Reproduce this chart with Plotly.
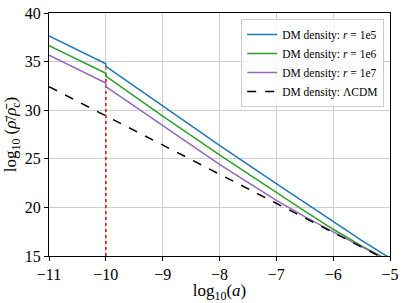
import plotly.graph_objects as go

# log10(a) sample positions and log10(rho/rho_c) values
x_r1e5 = [-11, -10, -10, -9, -8, -7, -6, -5.5, -5]
y_r1e5 = [37.63, 34.78, 34.5, 30.4, 26.38, 22.45, 18.52, 16.6, 14.78]

x_r1e6 = [-11, -10, -10, -9, -8, -7, -6.5, -6, -5.5, -5]
y_r1e6 = [36.64, 33.8, 33.5, 29.4, 25.4, 21.52, 19.62, 17.75, 16.05, 14.48]

x_r1e7 = [-11, -10, -10, -9, -8, -7.5, -7, -6.5, -6, -5]
y_r1e7 = [35.65, 32.8, 32.42, 28.4, 24.42, 22.58, 20.72, 19.05, 17.48, 14.45]

x_lcdm = [-11, -5]
y_lcdm = [32.42, 14.42]

# vertical markers at log10(a) = -10
x_mark = [-10, -10]
y_mark_orange = [15, 34.6]
y_mark_red = [15, 33.8]

x_ticks = [-11, -10, -9, -8, -7, -6, -5]
x_ticktext = ["\u221211", "\u221210", "\u22129", "\u22128", "\u22127", "\u22126", "\u22125"]
y_ticks = [15, 20, 25, 30, 35, 40]

names = ["DM density: <i>r</i> = 1e5", "DM density: <i>r</i> = 1e6",
         "DM density: <i>r</i> = 1e7", "DM density: \u039bCDM"]

fig = go.Figure()
fig.add_trace(go.Scatter(x=x_mark, y=y_mark_orange, mode="lines", showlegend=False,
                         line=dict(color="#ff7f0e", width=1.5, dash="dot")))
fig.add_trace(go.Scatter(x=x_mark, y=y_mark_red, mode="lines", showlegend=False,
                         line=dict(color="#d62728", width=1.5, dash="dot")))
fig.add_trace(go.Scatter(x=x_r1e5, y=y_r1e5, mode="lines", name=names[0],
                         line=dict(color="#1f77b4", width=1.5)))
fig.add_trace(go.Scatter(x=x_r1e6, y=y_r1e6, mode="lines", name=names[1],
                         line=dict(color="#2ca02c", width=1.5)))
fig.add_trace(go.Scatter(x=x_r1e7, y=y_r1e7, mode="lines", name=names[2],
                         line=dict(color="#9467bd", width=1.5)))
fig.add_trace(go.Scatter(x=x_lcdm, y=y_lcdm, mode="lines", name=names[3],
                         line=dict(color="black", width=1.5, dash="dash")))

font_family = "Times New Roman, Liberation Serif, serif"
fig.update_layout(
    width=404, height=303,
    margin=dict(l=49, r=8, t=5, b=46),
    paper_bgcolor="white", plot_bgcolor="white",
    font=dict(family=font_family, size=16, color="black"),
    showlegend=True,
    legend=dict(x=0.983, y=0.975, xanchor="right", yanchor="top",
                bgcolor="rgba(255,255,255,0.85)", bordercolor="#cccccc", borderwidth=1,
                font=dict(family=font_family, size=11.5, color="black"),
                tracegroupgap=0, itemwidth=30),
    xaxis=dict(range=[-11, -5], tickvals=x_ticks, ticktext=x_ticktext,
               showgrid=True, gridcolor="#cfcfcf", gridwidth=1,
               showline=True, linecolor="black", linewidth=1, mirror=True,
               ticks="outside", ticklen=4, tickcolor="black", zeroline=False,
               ticklabeloverflow="allow", tickfont=dict(size=16),
               title=dict(text="log<sub>10</sub>(<i>a</i>)", standoff=3,
                          font=dict(size=17))),
    yaxis=dict(range=[15, 40], tickvals=y_ticks,
               showgrid=True, gridcolor="#cfcfcf", gridwidth=1,
               showline=True, linecolor="black", linewidth=1, mirror=True,
               ticks="outside", ticklen=4, tickcolor="black", zeroline=False,
               ticklabeloverflow="allow", tickfont=dict(size=16),
               title=dict(text="log<sub>10</sub> (<i>\u03c1\u0304</i>/<i>\u03c1\u0304</i><sub>c</sub>)",
                          standoff=3, font=dict(size=17))),
)

fig.write_html("out.html", config={"displayModeBar": False},
               post_script="document.body.style.margin='0px';")
